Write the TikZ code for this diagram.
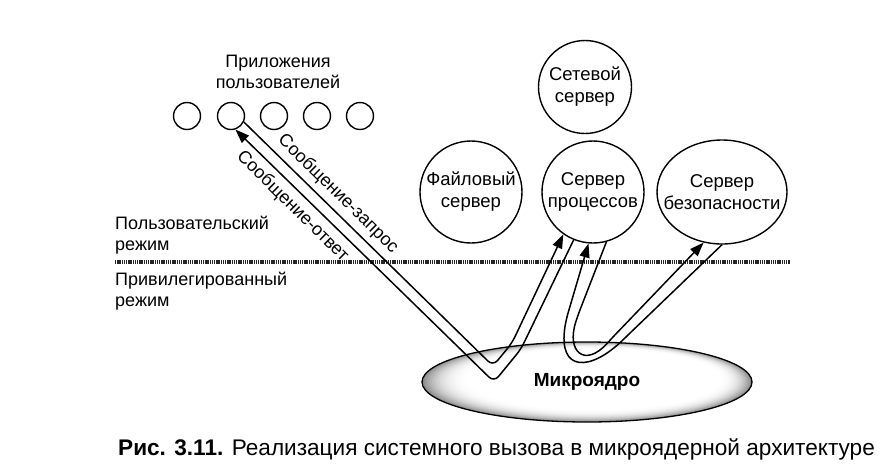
\documentclass[tikz,border=0pt]{standalone}
\usepackage{fontspec}
\setmainfont{Liberation Sans}
\usetikzlibrary{shapes.geometric,arrows.meta}
\begin{document}
\begin{tikzpicture}[x=1pt,y=-1pt,
  txt/.style={font=\fontsize{18}{20.5}\selectfont, inner sep=0pt, align=center},
  app/.style={circle, draw, line width=1.4pt, minimum size=27pt, inner sep=0pt},
  srv/.style={circle, draw, line width=1.4pt, fill=white, minimum size=102pt, inner sep=0pt},
  srvtxt/.style={font=\fontsize{18.5}{22}\selectfont, inner sep=0pt, align=center},
  msg/.style={line width=1.5pt, rounded corners=7pt},
  tip/.style={-{Triangle[length=14pt,width=10pt]}},
  divider/.style={line width=4pt, black!85, dash pattern=on 1.3pt off 0.9pt}
]
\useasboundingbox (0,0) rectangle (895,475);

% applications
\foreach \i/\x in {1/187,2/231,3/274,4/317,5/360}
  \node[app] (a\i) at (\x,116) {};
\node[txt] (apptitle) at (278,72) {Приложения\\пользователей};

% servers
\node[srv, minimum size=93pt] (net) at (585,87) {};
\node[srvtxt] (nettxt) at (net.center) {Сетевой\\сервер};
\node[srv] (file) at (471,192) {};
\node[srvtxt] (filetxt) at (file.center) {Файловый\\сервер};
\node[srv] (proc) at (593,192) {};
\node[srvtxt] (proctxt) at (proc.center) {Сервер\\процессов};
\node[srv, ellipse, minimum width=130pt, minimum height=104pt] (sec) at (722,192) {};
\node[srvtxt] (sectxt) at (sec.center) {Сервер\\безопасности};

% mode labels and divider
\node[txt, anchor=west, align=left] (umode) at (115,235) {Пользовательский\\режим};
\node[txt, anchor=west, align=left] (pmode) at (115,291) {Привилегированный\\режим};
\coordinate (dl) at (115,262);
\coordinate (dr) at (790,262);
\draw[divider] (dl) -- (dr);

% microkernel shading (concentric fills, darker at left and bottom)
\foreach \k in {0,...,20}{
  \pgfmathsetmacro\t{\k/20}
  \pgfmathsetmacro\g{45*(1-\t)^2.6}
  \fill[black!\g] ({587+8*\t},{382-3*\t}) ellipse [x radius={165-42*\t}, y radius={40-10*\t}];
}
\node[ellipse, draw, line width=1.3pt, minimum width=330pt, minimum height=80pt,
      font=\fontsize{19}{22}\selectfont\bfseries] (kern) at (587,382) {Микроядро};

% messages app <-> process server
\draw[msg, tip] (a2.-25) -- (493,366) -- (512,343) -- (proc.-125);
\draw[msg, tip] (proc.-112) -- (521,349) -- (494,382) -- (a2.-72);
\node[txt, rotate=-44.5] (lreq) at (338,194) {Сообщение-запрос};
\node[txt, rotate=-44.5] (lresp) at (292.5,206.5) {Сообщение-ответ};

% messages process server <-> security server
\draw[msg, tip] (proc.-75) -- (578,315) .. controls (566,352) and (585,368) .. (612,338) -- (sec.-110);
\draw[msg, tip] (sec.-90) -- (628,335) .. controls (590,372) and (558,372) .. (566,320) -- (proc.-95);

% caption
\node[anchor=base west, inner sep=0pt, font=\fontsize{22.6}{26}\selectfont] (cap) at (118,455)
  {\textbf{Рис. 3.11.} Реализация системного вызова в микроядерной архитектуре};
\end{tikzpicture}
\end{document}
